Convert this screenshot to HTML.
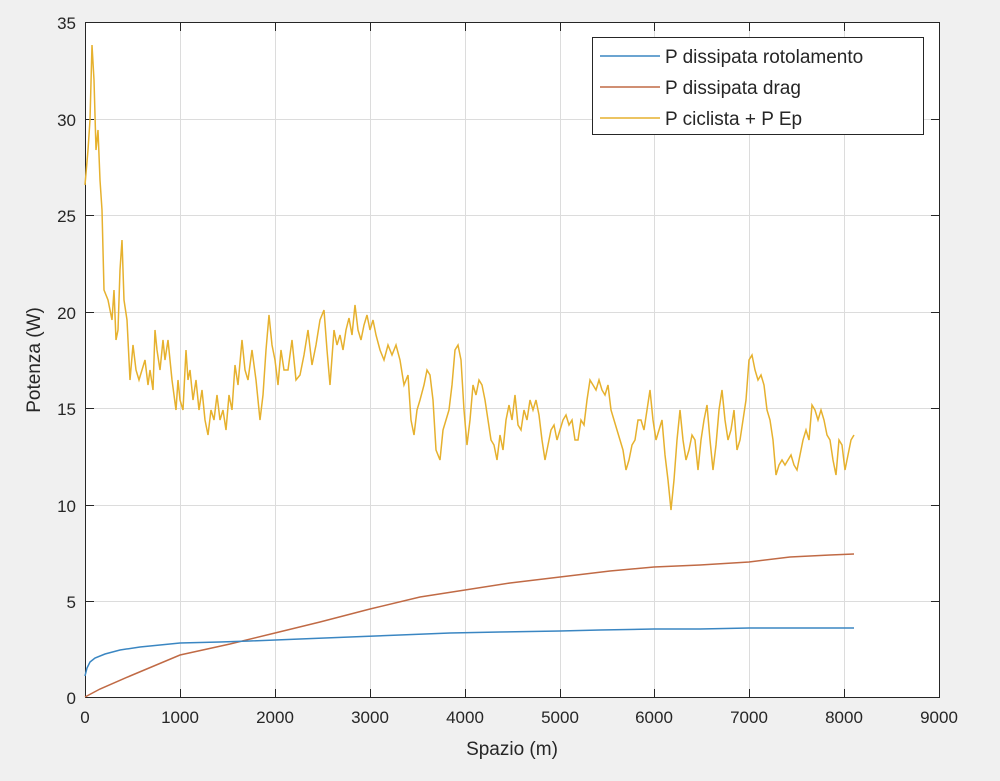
<!DOCTYPE html>
<html><head><style>body{margin:0;background:#f0f0f0}svg{display:block}</style></head><body>
<svg width="1000" height="781" xmlns="http://www.w3.org/2000/svg" font-family="Liberation Sans, sans-serif">
<rect width="1000" height="781" fill="#f0f0f0"/>
<rect x="85.5" y="22.5" width="854" height="675" fill="#fff"/>
<g stroke="#dcdcdc" stroke-width="1">
<line x1="180.5" y1="22" x2="180.5" y2="697"/><line x1="275.5" y1="22" x2="275.5" y2="697"/><line x1="370.5" y1="22" x2="370.5" y2="697"/><line x1="465.5" y1="22" x2="465.5" y2="697"/><line x1="560.5" y1="22" x2="560.5" y2="697"/><line x1="654.5" y1="22" x2="654.5" y2="697"/><line x1="749.5" y1="22" x2="749.5" y2="697"/><line x1="844.5" y1="22" x2="844.5" y2="697"/>
<line x1="85" y1="601.5" x2="939" y2="601.5"/><line x1="85" y1="505.5" x2="939" y2="505.5"/><line x1="85" y1="408.5" x2="939" y2="408.5"/><line x1="85" y1="312.5" x2="939" y2="312.5"/><line x1="85" y1="215.5" x2="939" y2="215.5"/><line x1="85" y1="119.5" x2="939" y2="119.5"/>
</g>
<rect x="85.5" y="22.5" width="854" height="675" fill="none" stroke="#262626" stroke-width="1"/>
<g stroke="#262626">
<line x1="180.5" y1="697" x2="180.5" y2="689"/><line x1="275.5" y1="697" x2="275.5" y2="689"/><line x1="370.5" y1="697" x2="370.5" y2="689"/><line x1="465.5" y1="697" x2="465.5" y2="689"/><line x1="560.5" y1="697" x2="560.5" y2="689"/><line x1="654.5" y1="697" x2="654.5" y2="689"/><line x1="749.5" y1="697" x2="749.5" y2="689"/><line x1="844.5" y1="697" x2="844.5" y2="689"/>
<line x1="180.5" y1="23" x2="180.5" y2="31"/><line x1="275.5" y1="23" x2="275.5" y2="31"/><line x1="370.5" y1="23" x2="370.5" y2="31"/><line x1="465.5" y1="23" x2="465.5" y2="31"/><line x1="560.5" y1="23" x2="560.5" y2="31"/><line x1="654.5" y1="23" x2="654.5" y2="31"/><line x1="749.5" y1="23" x2="749.5" y2="31"/><line x1="844.5" y1="23" x2="844.5" y2="31"/>
<line x1="86" y1="601.5" x2="94" y2="601.5"/><line x1="86" y1="505.5" x2="94" y2="505.5"/><line x1="86" y1="408.5" x2="94" y2="408.5"/><line x1="86" y1="312.5" x2="94" y2="312.5"/><line x1="86" y1="215.5" x2="94" y2="215.5"/><line x1="86" y1="119.5" x2="94" y2="119.5"/>
<line x1="939" y1="601.5" x2="931" y2="601.5"/><line x1="939" y1="505.5" x2="931" y2="505.5"/><line x1="939" y1="408.5" x2="931" y2="408.5"/><line x1="939" y1="312.5" x2="931" y2="312.5"/><line x1="939" y1="215.5" x2="931" y2="215.5"/><line x1="939" y1="119.5" x2="931" y2="119.5"/>
</g>
<g font-size="17" fill="#262626" text-anchor="middle">
<text x="85" y="723">0</text><text x="180" y="723">1000</text><text x="275" y="723">2000</text><text x="370" y="723">3000</text><text x="465" y="723">4000</text><text x="560" y="723">5000</text><text x="654" y="723">6000</text><text x="749" y="723">7000</text><text x="844" y="723">8000</text><text x="939" y="723">9000</text>
</g>
<g font-size="17" fill="#262626" text-anchor="end">
<text x="76" y="704">0</text><text x="76" y="608">5</text><text x="76" y="512">10</text><text x="76" y="415">15</text><text x="76" y="319">20</text><text x="76" y="222">25</text><text x="76" y="126">30</text><text x="76" y="29">35</text>
</g>
<text x="512" y="755" font-size="19" fill="#262626" text-anchor="middle">Spazio (m)</text>
<text transform="translate(40,360) rotate(-90)" font-size="19" fill="#262626" text-anchor="middle">Potenza (W)</text>
<polyline fill="none" stroke="#C06A45" stroke-width="1.5" points="85,697 100,689 130,676 180,655 230,644 275,633 320,622 370,609 420,597 465,590 510,583 560,577 610,571 654,567 700,565 749,562 790,557 830,555 854,554"/>
<polyline fill="none" stroke="#3A86C2" stroke-width="1.5" points="85,676 87,668 90,662 95,658 105,654 120,650 140,647 160,645 180,643 220,642 250,641 300,639 350,637 400,635 450,633 500,632 560,631 600,630 654,629 700,629 749,628 800,628 854,628"/>
<polyline fill="none" stroke="#E6B12E" stroke-width="1.5" points="85,185 88,150 90,120 92,45 94,80 96,150 98,130 100,180 102,210 104,290 108,300 112,320 114,290 116,340 118,330 120,270 122,240 124,300 127,320 130,380 133,345 136,370 139,380 142,370 145,360 148,385 150,370 153,390 155,330 157,350 160,370 163,340 165,360 168,340 172,380 176,410 178,380 180,400 183,410 186,350 188,380 190,370 193,400 196,380 199,410 202,390 205,420 208,435 211,410 214,420 217,395 220,420 223,410 226,430 229,395 232,410 235,365 238,385 242,340 245,370 248,380 252,350 256,380 260,420 263,395 266,350 269,315 272,345 275,360 278,385 281,350 284,370 288,370 292,340 296,380 300,375 304,355 308,330 312,365 316,345 320,320 324,310 327,350 330,385 334,330 337,345 340,335 343,350 346,330 349,318 352,335 355,305 358,330 361,340 364,325 367,315 370,330 373,320 376,335 380,350 384,360 388,345 392,355 396,345 400,360 404,385 408,375 411,420 414,435 417,410 420,400 424,385 427,370 430,375 433,400 436,450 440,460 443,430 446,420 449,410 452,385 455,350 458,345 461,360 464,410 467,445 470,420 473,385 476,395 479,380 482,385 485,400 488,420 491,440 494,445 497,460 500,435 503,450 506,420 509,405 512,420 515,395 518,425 521,430 524,410 527,420 530,400 533,410 536,400 539,415 542,440 545,460 548,445 551,430 554,425 557,440 560,430 563,420 566,415 569,425 572,420 575,440 578,440 581,420 584,425 587,400 590,380 593,385 596,390 599,380 602,390 605,395 608,385 611,410 614,420 617,430 620,440 623,450 626,470 629,460 632,445 635,440 638,420 641,420 644,430 647,410 650,390 653,420 656,440 659,430 662,420 665,455 668,480 671,510 674,480 677,440 680,410 683,440 686,460 689,450 692,435 695,440 698,470 701,440 704,420 707,405 710,440 713,470 716,445 719,410 722,390 725,420 728,440 731,430 734,410 737,450 740,440 743,420 746,400 749,360 752,355 755,370 758,380 761,375 764,385 767,410 770,420 773,440 776,475 779,465 782,460 785,465 788,460 791,455 794,465 797,470 800,455 803,440 806,430 809,440 812,405 815,410 818,420 821,410 824,420 827,435 830,440 833,460 836,475 839,440 842,445 845,470 848,455 851,440 854,435"/>
<rect x="592.5" y="37.5" width="331" height="97" fill="#fff" stroke="#262626"/>
<line x1="600" y1="56" x2="660" y2="56" stroke="#3A86C2" stroke-width="1.5"/>
<line x1="600" y1="87" x2="660" y2="87" stroke="#C06A45" stroke-width="1.5"/>
<line x1="600" y1="118" x2="660" y2="118" stroke="#E6B12E" stroke-width="1.5"/>
<g font-size="19" fill="#262626">
<text x="665" y="63">P dissipata rotolamento</text>
<text x="665" y="94">P dissipata drag</text>
<text x="665" y="125">P ciclista + P Ep</text>
</g>
</svg>
</body></html>
